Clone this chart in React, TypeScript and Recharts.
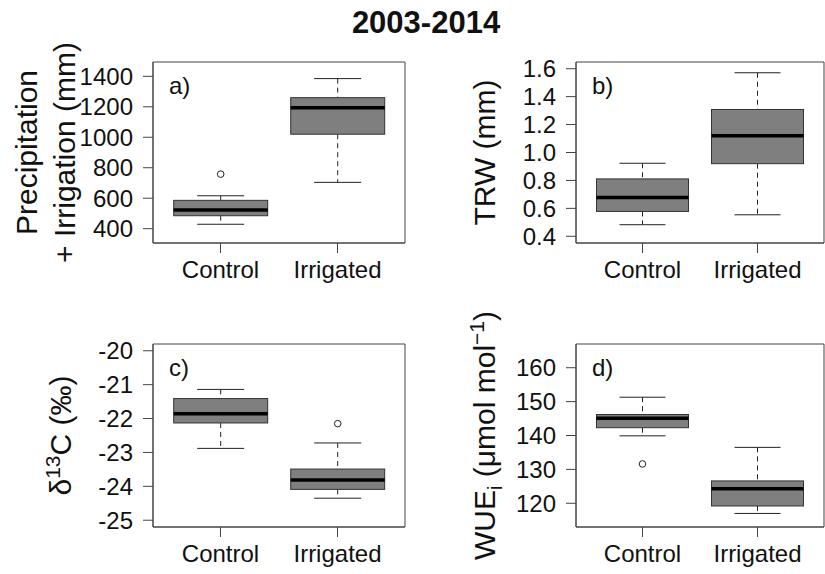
import { ComposedChart, Bar, XAxis, YAxis, CartesianGrid } from "recharts";

const groups = ["Control", "Irrigated"];

// a) precipitation + irrigation (mm)
const precipLow = [429, 704];
const precipQ1 = [485, 1020];
const precipMedian = [523, 1193];
const precipQ3 = [586, 1260];
const precipHigh = [616, 1385];
const precipOutliers = [[758], []];
const precipTicks = [400, 600, 800, 1000, 1200, 1400];

// b) tree ring width (mm)
const trwLow = [0.483, 0.554];
const trwQ1 = [0.578, 0.92];
const trwMedian = [0.678, 1.12];
const trwQ3 = [0.811, 1.308];
const trwHigh = [0.923, 1.571];
const trwOutliers = [[], []];
const trwTicks = [0.4, 0.6, 0.8, 1.0, 1.2, 1.4, 1.6];

// c) delta 13C (permil)
const d13cLow = [-22.88, -24.35];
const d13cQ1 = [-22.13, -24.09];
const d13cMedian = [-21.86, -23.81];
const d13cQ3 = [-21.41, -23.49];
const d13cHigh = [-21.14, -22.72];
const d13cOutliers = [[], [-22.15]];
const d13cTicks = [-25, -24, -23, -22, -21, -20];

// d) intrinsic water use efficiency
const wueLow = [139.9, 117.0];
const wueQ1 = [142.3, 119.2];
const wueMedian = [145.1, 124.3];
const wueQ3 = [146.2, 126.6];
const wueHigh = [151.3, 136.5];
const wueOutliers = [[131.6], []];
const wueTicks = [120, 130, 140, 150, 160];

type Row = {
  group: string;
  low: number;
  q1: number;
  median: number;
  q3: number;
  high: number;
  outliers: number[];
};

const makeRows = (
  low: number[],
  q1: number[],
  median: number[],
  q3: number[],
  high: number[],
  outliers: number[][]
): Row[] =>
  groups.map((group, i) => ({
    group,
    low: low[i],
    q1: q1[i],
    median: median[i],
    q3: q3[i],
    high: high[i],
    outliers: outliers[i],
  }));

const INK = "#111";
const FRAME = "#444";
const FONT = "'Liberation Sans', Arial, Helvetica, sans-serif";

// The bar spans low..high; everything else is placed on the same pixel scale.
function BoxShape(props: any) {
  const { x, y, width, height, payload } = props;
  const { low, q1, median, q3, high, outliers } = payload as Row;
  const k = height / (high - low);
  const py = (v: number) => y + (high - v) * k;
  const cx = x + width / 2;
  const cap = width / 4;
  return (
    <g>
      <line x1={cx} x2={cx} y1={py(high)} y2={py(q3)} stroke="#222" strokeDasharray="5 4" />
      <line x1={cx} x2={cx} y1={py(q1)} y2={py(low)} stroke="#222" strokeDasharray="5 4" />
      <line x1={cx - cap} x2={cx + cap} y1={py(high)} y2={py(high)} stroke="#222" />
      <line x1={cx - cap} x2={cx + cap} y1={py(low)} y2={py(low)} stroke="#222" />
      <rect
        x={x}
        y={py(q3)}
        width={width}
        height={py(q1) - py(q3)}
        fill="#7f7f7f"
        stroke="#333"
      />
      <line x1={x} x2={x + width} y1={py(median)} y2={py(median)} stroke="#000" strokeWidth={3.5} />
      {outliers.map((o, i) => (
        <circle key={i} cx={cx} cy={py(o)} r={3.3} fill="none" stroke="#222" />
      ))}
    </g>
  );
}

type PanelProps = {
  rows: Row[];
  domain: [number, number];
  ticks: number[];
  tag: string;
  left: number;
  top: number;
  width: number;
  height: number;
  marginTop: number;
  right: number;
  axisWidth: number;
  xAxisHeight: number;
  fmt?: (v: number) => string;
  yLabel: (x: number, cy: number) => any;
};

function Panel(p: PanelProps) {
  const plotH = p.height - p.marginTop - p.xAxisHeight;
  const plotW = p.width - p.right - p.axisWidth;
  return (
    <div style={{ position: "absolute", left: p.left, top: p.top }}>
      <ComposedChart
        width={p.width}
        height={p.height}
        data={p.rows}
        margin={{ top: p.marginTop, right: p.right, bottom: 0, left: 0 }}
        barCategoryGap="10%"
      >
        {/* plot frame: lines on the four edges of the plotting area */}
        <CartesianGrid
          stroke={FRAME}
          horizontalCoordinatesGenerator={(g: any) => {
            const o = g?.offset ?? { top: p.marginTop, height: plotH };
            return [o.top, o.top + o.height];
          }}
          verticalCoordinatesGenerator={(g: any) => {
            const o = g?.offset ?? { left: p.axisWidth, width: plotW };
            return [o.left, o.left + o.width];
          }}
        />
        <XAxis
          dataKey="group"
          height={p.xAxisHeight}
          padding={{ left: 9, right: 9 }}
          interval={0}
          stroke={FRAME}
          tickSize={10}
          tickMargin={8}
          tick={{ fontSize: 24, fill: INK }}
        />
        <YAxis
          type="number"
          domain={p.domain}
          ticks={p.ticks}
          allowDataOverflow
          interval={0}
          width={p.axisWidth}
          stroke={FRAME}
          tickSize={10}
          tickMargin={10}
          tickFormatter={p.fmt}
          tick={{ fontSize: 24, fill: INK }}
          label={(lp: any) => {
            const vb = lp.viewBox ?? {
              x: 0,
              y: p.marginTop,
              width: p.axisWidth,
              height: plotH,
            };
            return (
              <g>
                {p.yLabel(vb.x, vb.y + vb.height / 2)}
                <text x={vb.x + vb.width + 16} y={vb.y + 32} fontSize={24} fill={INK}>
                  {p.tag}
                </text>
              </g>
            );
          }}
        />
        <Bar
          dataKey={(d: Row) => [d.low, d.high]}
          shape={BoxShape}
          isAnimationActive={false}
        />
      </ComposedChart>
    </div>
  );
}

const rotated = (x: number, cy: number) => ({
  x,
  y: cy,
  transform: `rotate(-90 ${x} ${cy})`,
  textAnchor: "middle" as const,
  fontSize: 30,
  fill: INK,
});

export default function App() {
  return (
    <div
      style={{
        position: "absolute",
        left: 0,
        top: 0,
        width: 825,
        height: 574,
        overflow: "hidden",
        background: "#fff",
        fontFamily: FONT,
      }}
    >
      <svg width={825} height={50} style={{ position: "absolute", left: 0, top: 0 }}>
        <text x={426} y={33} textAnchor="middle" fontSize={31} fontWeight="bold" fill={INK}>
          2003-2014
        </text>
      </svg>

      <Panel
        rows={makeRows(precipLow, precipQ1, precipMedian, precipQ3, precipHigh, precipOutliers)}
        domain={[306, 1494]}
        ticks={precipTicks}
        tag="a)"
        left={0}
        top={20}
        width={412}
        height={273}
        marginTop={42}
        right={7}
        axisWidth={153}
        xAxisHeight={50}
        yLabel={(x, cy) => (
          <g>
            <text {...rotated(x + 37, cy)}>Precipitation</text>
            <text {...rotated(x + 75, cy)}>+ Irrigation (mm)</text>
          </g>
        )}
      />

      <Panel
        rows={makeRows(trwLow, trwQ1, trwMedian, trwQ3, trwHigh, trwOutliers)}
        domain={[0.352, 1.648]}
        ticks={trwTicks}
        fmt={(v) => v.toFixed(1)}
        tag="b)"
        left={420}
        top={20}
        width={405}
        height={273}
        marginTop={42}
        right={1}
        axisWidth={156}
        xAxisHeight={50}
        yLabel={(x, cy) => <text {...rotated(x + 75, cy)}>TRW (mm)</text>}
      />

      <Panel
        rows={makeRows(d13cLow, d13cQ1, d13cMedian, d13cQ3, d13cHigh, d13cOutliers)}
        domain={[-25.2, -19.8]}
        ticks={d13cTicks}
        tag="c)"
        left={0}
        top={298}
        width={412}
        height={276}
        marginTop={46}
        right={7}
        axisWidth={153}
        xAxisHeight={47}
        yLabel={(x, cy) => (
          <text {...rotated(x + 71, cy)}>
            <tspan>δ</tspan>
            <tspan dy={-11} fontSize={21}>
              13
            </tspan>
            <tspan dy={11}>C (‰)</tspan>
          </text>
        )}
      />

      <Panel
        rows={makeRows(wueLow, wueQ1, wueMedian, wueQ3, wueHigh, wueOutliers)}
        domain={[113, 167]}
        ticks={wueTicks}
        tag="d)"
        left={420}
        top={298}
        width={405}
        height={276}
        marginTop={46}
        right={1}
        axisWidth={156}
        xAxisHeight={47}
        yLabel={(x, cy) => (
          <text {...rotated(x + 75, cy)}>
            <tspan>WUE</tspan>
            <tspan dy={7} fontSize={20}>
              i
            </tspan>
            <tspan dy={-7}> (μmol mol</tspan>
            <tspan dy={-11} fontSize={21}>
              −1
            </tspan>
            <tspan dy={11}>)</tspan>
          </text>
        )}
      />
    </div>
  );
}
